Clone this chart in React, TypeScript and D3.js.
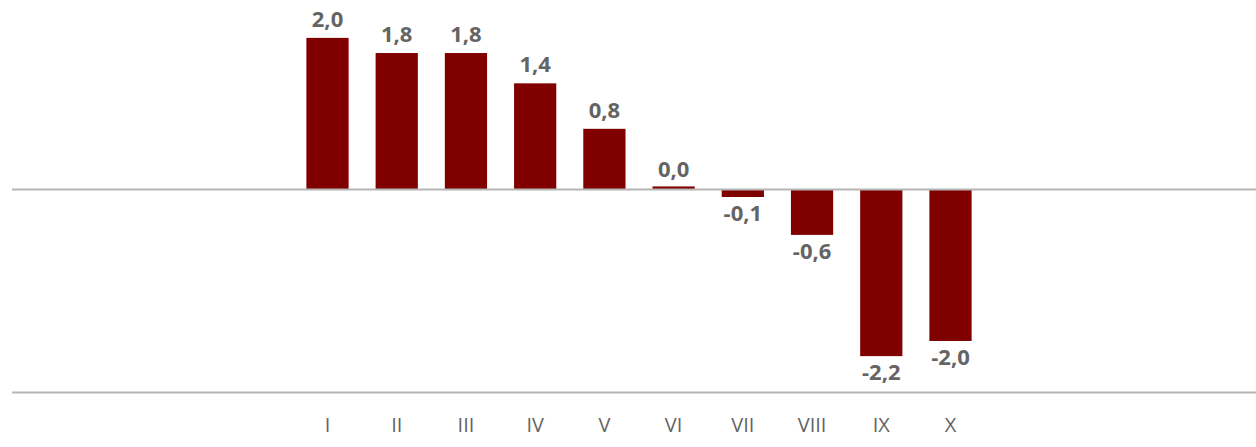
import * as d3 from 'd3'

// Kategorien (mit leeren Plätzen links und rechts wie im Original)
const categories = ['_a', '_b', '_c', '_d', 'I', 'II', 'III', 'IV', 'V', 'VI', 'VII', 'VIII', 'IX', 'X', '_e', '_f', '_g', '_h']
const labels = ['I', 'II', 'III', 'IV', 'V', 'VI', 'VII', 'VIII', 'IX', 'X']
const values = [2.0, 1.8, 1.8, 1.4, 0.8, 0.0, -0.1, -0.6, -2.2, -2.0]

const W = 1256
const H = 447
const barColor = '#800000'
const textColor = '#646464'
const lineColor = '#b5b5b5'

const fmt = (v: number) => v.toFixed(1).replace('.', ',')

const App = () => {
  const x = d3.scaleBand<string>().domain(categories).range([16, 1262]).paddingInner(0.39).paddingOuter(0.195)
  const y = d3.scaleLinear().domain([-2.68, 2.5]).range([392.5, 0])
  const y0 = y(0)

  return (
    <svg width={W} height={H} style={{ position: 'absolute', left: 0, top: 0 }}>
      <rect width={W} height={H} fill="#fff" />
      {/* Balken */}
      {labels.map((c, i) => {
        const v = values[i]
        const yv = y(v)
        const h = Math.max(Math.abs(yv - y0), 3)
        const top = v >= 0 ? y0 - h : y0
        return <rect key={c} x={x(c)} y={top} width={x.bandwidth()} height={h} fill={barColor} />
      })}
      {/* Null- und Grundlinie */}
      <line x1={12} x2={W} y1={y0} y2={y0} stroke={lineColor} strokeWidth={2} />
      <line x1={12} x2={W} y1={y(-2.68)} y2={y(-2.68)} stroke={lineColor} strokeWidth={2} />
      {/* Werte */}
      {labels.map((c, i) => {
        const v = values[i]
        const cx = (x(c) ?? 0) + x.bandwidth() / 2
        const yy = v > 0 ? y(v) - 11 : v === 0 ? y0 - 12 : y(v) + 24
        return (
          <text key={'l' + c} x={cx} y={yy} textAnchor="middle" fontFamily="Open Sans" fontWeight="bold" fontSize={22} fill={textColor}>
            {fmt(v)}
          </text>
        )
      })}
      {/* Achsenbeschriftung */}
      {labels.map((c) => (
        <text key={'t' + c} x={(x(c) ?? 0) + x.bandwidth() / 2} y={432} textAnchor="middle" fontFamily="Open Sans" fontSize={20} fill={textColor}>
          {c}
        </text>
      ))}
    </svg>
  )
}

export default App
